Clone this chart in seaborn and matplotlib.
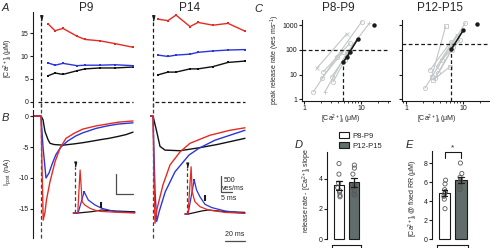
import numpy as np
import pandas as pd
import matplotlib
matplotlib.use('Agg')
import matplotlib.pyplot as plt
import seaborn as sns
from matplotlib.patches import Patch
from matplotlib.ticker import LogLocator, NullLocator, FixedLocator, NullFormatter

# ---------------- data ----------------
# Panel A: [Ca2+]i (uM) over the train (time in ms)
a_p9_t = [7, 14, 22, 36, 44, 59, 74, 92]
a_p9_red = [17.0, 15.5, 16.0, 14.3, 13.6, 13.3, 12.7, 11.9]
a_p9_blue = [8.5, 8.0, 8.4, 7.9, 8.0, 8.0, 8.1, 7.9]
a_p9_black = [5.7, 6.3, 6.0, 6.8, 7.2, 7.4, 7.4, 7.6]
a_p14_t = [5, 15, 23, 37, 45, 60, 75, 92]
a_p14_red = [18.0, 17.7, 18.9, 16.4, 17.3, 16.7, 17.1, 15.4]
a_p14_blue = [10.2, 9.9, 10.2, 10.4, 10.8, 11.1, 11.3, 11.4]
a_p14_black = [5.9, 6.5, 6.5, 7.2, 7.2, 7.7, 8.6, 8.9]

# Panel B: postsynaptic currents (nA) vs time (ms)
b_p9_black_t = [-8, 0, 2, 4, 7, 9, 13, 22, 33, 42, 53, 60, 68, 77, 85, 92]
b_p9_black_i = [0, 0, -0.6, -2.5, -3.8, -4.4, -4.6, -4.7, -4.5, -4.3, -4.0, -3.8, -3.6, -3.3, -3.0, -2.6]
b_p9_blue_t = [-8, 0, 2, 5, 8, 11, 15, 20, 27, 35, 42, 55, 66, 77, 92]
b_p9_blue_i = [0, 0, -5, -10, -9.2, -7.8, -6.2, -5.0, -4.0, -3.2, -2.7, -2.0, -1.6, -1.3, -1.1]
b_p9_red_t = [-8, 0, 1, 2.2, 4, 5.5, 9, 14, 19, 25, 33, 42, 55, 66, 77, 92]
b_p9_red_i = [0, 0, -8, -16.8, -15.5, -13.5, -10.6, -7.4, -5.2, -3.6, -2.8, -2.1, -1.6, -1.3, -1.0, -0.8]
b_p14_black_t = [-3, 0, 3.7, 7, 12, 27, 47, 64, 92]
b_p14_black_i = [0, 0, -2.5, -4.9, -5.5, -5.6, -5.1, -4.6, -3.6]
b_p14_blue_t = [-3, 0, 2, 3.7, 6, 12.3, 22, 36, 46, 62, 92]
b_p14_blue_i = [0, 0, -12, -17.0, -15.5, -12.2, -9.0, -6.3, -5.2, -3.9, -2.3]
b_p14_red_t = [-3, 0, 1, 2, 4, 10, 17, 27, 37, 57, 77, 92]
b_p14_red_i = [0, 0, -10, -17.3, -15, -11.1, -7.9, -5.8, -4.4, -3.1, -2.3, -1.9]

# Insets: release rate (ves/ms) vs time (ms)
in_p9_red_t = [-0.5, 0.8, 1.5, 2.1, 2.9, 4.4, 5.9, 7.6, 11.8, 17.6]
in_p9_red_r = [0, 0, 1075, 280, 200, 117, 70, 40, 20, 0]
in_p9_blue_t = [-0.5, 0.9, 2.7, 3.9, 5.9, 7.9, 11.8, 17.6]
in_p9_blue_r = [0, 0, 530, 325, 200, 117, 33, 10]
in_p9_black_t = [-0.5, 0.9, 4.9, 7.9, 11.8, 17.6]
in_p9_black_r = [0, 0, 33, 75, 50, 30]
in_p14_red_t = [-0.5, 0.4, 1.3, 1.6, 2.4, 3.9, 6.4, 11.3, 17.1]
in_p14_red_r = [0, 0, 1180, 560, 310, 183, 100, 40, 15]
in_p14_blue_t = [-0.5, 0.4, 2.2, 2.9, 3.9, 5.4, 7.4, 11.3, 17.1]
in_p14_blue_r = [0, 0, 850, 600, 430, 240, 160, 75, 15]
in_p14_black_t = [-0.5, 0.5, 4.4, 6.3, 11.3, 17.1]
in_p14_black_r = [0, 0, 75, 100, 60, 40]

# Panel C: peak release rate vs [Ca2+]i (log-log); gray = single cells
c1_cells_x = [[1.46, 3.75, 10.3], [2.33, 5.6, 14.0], [1.67, 5.6], [2.03, 4.9], [2.18, 6.4], [3.06, 6.0], [3.27, 5.2]]
c1_cells_y = [[2.0, 53, 1390], [2.0, 73, 1200], [18, 440], [7.1, 85], [13, 185], [8.2, 77], [5.2, 39]]
c1_cells_m = ['o', '+', 'x', 'o', 'o', 'o', 'o']
c1_mean_x = [4.9, 5.75, 6.4, 8.7]
c1_mean_y = [33, 53, 85, 270]
c1_single = (17.2, 1000)
c1_fixed_rr, c1_ca_at_rr = 100, 4.9
c2_cells_x = [[2.15, 11.0], [2.64, 6.15], [2.82, 4.97], [3.2, 6.3], [3.45, 7.75], [3.7, 6.8], [4.2, 8.9], [3.0, 5.9]]
c2_cells_y = [[2.8, 1250], [15.3, 215], [8.2, 900], [7.1, 99], [21, 400], [11.3, 134], [39, 250], [6, 21]]
c2_cells_m = ['o', 'o', 's', 'o', 'x', 'o', 'o', 's']
c2_mean_x = [6.2, 10.2]
c2_mean_y = [105, 640]
c2_single = (17.8, 1100)
c2_fixed_rr, c2_ca_at_rr = 165, 6.2

# Panels D/E
groups = ['P8-P9', 'P12-P15']
d_p89 = [5.0, 4.3, 3.7, 3.4, 3.2, 3.1, 2.9, 2.8]
d_p1215 = [4.9, 4.7, 4.3, 3.6, 3.4, 3.2, 3.0, 2.9]
e_p89 = [6.2, 5.8, 5.2, 5.0, 4.8, 4.5, 4.2, 3.2]
e_p1215 = [8.0, 6.9, 6.5, 6.2, 5.9, 5.6, 5.3, 5.2]

# ---------------- style ----------------
sns.set_theme(style='ticks')
plt.rcParams['font.family'] = ['Liberation Sans', 'DejaVu Sans']
plt.rcParams.update({
    'axes.linewidth': 0.8, 'xtick.major.width': 0.8, 'ytick.major.width': 0.8,
    'xtick.minor.width': 0.6, 'xtick.major.size': 2.2, 'ytick.major.size': 2.2,
    'xtick.minor.size': 1.4, 'xtick.labelsize': 5, 'ytick.labelsize': 5,
    'xtick.major.pad': 0.8, 'ytick.major.pad': 1.0, 'axes.unicode_minus': False,
    'mathtext.fontset': 'custom', 'mathtext.rm': 'Liberation Sans',
    'mathtext.it': 'Liberation Sans:italic', 'mathtext.bf': 'Liberation Sans:bold',
    'axes.edgecolor': 'k', 'xtick.color': 'k', 'ytick.color': 'k',
})
RED = '#e52a22'
BLUE = '#2a36d8'
BLACK = '#111111'
GRAY = '#c2c6c6'
BARGRAY = '#5e6f6c'
W, H = 490, 248

fig = plt.figure(figsize=(4.9, 2.48), dpi=100)


def px_axes(x0, y0, x1, y1):
    return fig.add_axes([x0 / W, 1 - y1 / H, (x1 - x0) / W, (y1 - y0) / H])


DASH = (0, (3, 2))
arrow_marker = [(-1, 2.2), (1, 2.2), (0, -2.2)]

# ---------------- Panel A ----------------
A_YLIM = (-1.09, 19.57)
for (x0, x1, xl, t, reds, blues, blacks, spine) in [
        (33, 136, (-8, 95), a_p9_t, a_p9_red, a_p9_blue, a_p9_black, True),
        (150, 248, (-3, 95), a_p14_t, a_p14_red, a_p14_blue, a_p14_black, False)]:
    ax = px_axes(x0, 12, x1, 107)
    ax.set_xlim(*xl)
    ax.set_ylim(*A_YLIM)
    ax.plot([xl[0] + 5, 92], [0, 0], ls=DASH, color='k', lw=0.9)
    ax.plot([0, 0], [A_YLIM[0], 17.5], ls=DASH, color='k', lw=0.9, clip_on=False)
    ax.plot([0], [18.3], marker=arrow_marker, ms=4, color='k', clip_on=False)
    for vals, col in [(blacks, BLACK), (blues, BLUE), (reds, RED)]:
        sns.lineplot(x=t, y=vals, ax=ax, color=col, lw=1.0, marker='s', ms=1.6,
                     mew=0, sort=False, estimator=None)
    sns.despine(ax=ax, bottom=True, left=not spine)
    ax.set_xticks([])
    if spine:
        ax.set_yticks([0, 5, 10, 15])
    else:
        ax.set_yticks([])
    ax.set_xlabel('')
    ax.set_ylabel('')
    ax.patch.set_alpha(0)

# ---------------- Panel B ----------------
B_YLIM = (-19.68, 0.97)
for (x0, x1, xl, traces, spine) in [
        (33, 136, (-8, 95), [(b_p9_black_t, b_p9_black_i, BLACK), (b_p9_blue_t, b_p9_blue_i, BLUE),
                             (b_p9_red_t, b_p9_red_i, RED)], True),
        (150, 248, (-3, 95), [(b_p14_black_t, b_p14_black_i, BLACK), (b_p14_blue_t, b_p14_blue_i, BLUE),
                              (b_p14_red_t, b_p14_red_i, RED)], False)]:
    ax = px_axes(x0, 110, x1, 238)
    ax.set_xlim(*xl)
    ax.set_ylim(*B_YLIM)
    ax.plot([0, 0], [B_YLIM[0], B_YLIM[1] + 1.5], ls=DASH, color='0.25', lw=0.9, clip_on=False, zorder=1)
    for t, i, col in traces:
        sns.lineplot(x=t, y=i, ax=ax, color=col, lw=1.0, sort=False, estimator=None)
    sns.despine(ax=ax, bottom=True, left=not spine)
    ax.set_xticks([])
    if spine:
        ax.set_yticks([0, -5, -10, -15])
    else:
        ax.set_yticks([])
    ax.set_xlabel('')
    ax.set_ylabel('')
    ax.patch.set_alpha(0)

# ---------------- Insets ----------------
for (x0, x1, x_dash, base, data, blue_pk, black_mk) in [
        (72, 140, 75, 213, [(in_p9_black_t, in_p9_black_r, BLACK), (in_p9_blue_t, in_p9_blue_r, BLUE),
                            (in_p9_red_t, in_p9_red_r, RED)], (2.7, 530), (7.6, 200)),
        (183, 247, 186.7, 214, [(in_p14_black_t, in_p14_black_r, BLACK), (in_p14_blue_t, in_p14_blue_r, BLUE),
                                (in_p14_red_t, in_p14_red_r, RED)], (2.2, 850), (5.4, 390))]:
    ax = px_axes(x0, 160, x1, 216)
    sx = 3.4
    ax.set_xlim((x0 - x_dash) / sx, (x1 - x_dash) / sx)
    ax.set_ylim(-(216 - base) * 25, (base - 160) * 25)
    ax.plot([0, 0], [0, 1150], ls=DASH, color='0.25', lw=0.9)
    ax.plot([0], [1230], marker=arrow_marker, ms=3.5, color='k')
    for t, r, col in data:
        sns.lineplot(x=t, y=r, ax=ax, color=col, lw=0.9, sort=False, estimator=None)
    ax.plot([blue_pk[0]], [blue_pk[1]], marker='s', ms=2, color=BLUE, mew=0)
    ax.plot([black_mk[0]], [black_mk[1]], marker='|', ms=4, mew=1.5, color='k')
    ax.axis('off')

# ---------------- Panel C ----------------
for (x0, x1, xl, cx, cy, cm, mx, my, single, rr, ca, ylabels) in [
        (302, 390, (0.92, 32.3), c1_cells_x, c1_cells_y, c1_cells_m, c1_mean_x, c1_mean_y, c1_single,
         c1_fixed_rr, c1_ca_at_rr, True),
        (402, 490, (0.85, 29.8), c2_cells_x, c2_cells_y, c2_cells_m, c2_mean_x, c2_mean_y, c2_single,
         c2_fixed_rr, c2_ca_at_rr, False)]:
    ax = px_axes(x0, 20, x1, 101)
    ax.set_xscale('log')
    ax.set_yscale('log')
    ax.set_xlim(*xl)
    ylim = (0.85, 1620)
    ax.set_ylim(*ylim)
    for xs, ys, m in zip(cx, cy, cm):
        sns.lineplot(x=xs, y=ys, ax=ax, color=GRAY, lw=0.8, marker=m, ms=3, mfc='none',
                     mec=GRAY, mew=0.6, sort=False, estimator=None)
    ax.plot(list(xl), [rr, rr], ls=DASH, color='k', lw=0.9)
    ax.plot([ca, ca], [ylim[0], my[0] if ylabels else rr * 0.64], ls=DASH, color='k', lw=0.9)
    sns.lineplot(x=mx, y=my, ax=ax, color='k', lw=1.2, marker='o', ms=3.2, mew=0,
                 sort=False, estimator=None)
    ax.plot([single[0]], [single[1]], marker='o', ms=3.2, color='k', mew=0)
    sns.despine(ax=ax)
    ax.yaxis.set_major_locator(FixedLocator([1, 10, 100, 1000]))
    ax.yaxis.set_minor_locator(NullLocator())
    ax.xaxis.set_major_locator(FixedLocator([1, 10]))
    ax.xaxis.set_minor_locator(LogLocator(base=10, subs=np.arange(2, 10)))
    ax.xaxis.set_minor_formatter(NullFormatter())
    ax.set_xticklabels(['1', '10'])
    if ylabels:
        ax.set_yticklabels(['1', '10', '100', '1000'])
    else:
        ax.set_yticklabels([])
    ax.set_xlabel('')
    ax.set_ylabel('')
    ax.patch.set_alpha(0)

# ---------------- Panels D / E ----------------
def bar_panel(x0, x1, y_top, ylim, vals, yticks, xlim):
    ax = px_axes(x0, y_top, x1, 241)
    df = pd.DataFrame({'group': [groups[0]] * len(vals[0]) + [groups[1]] * len(vals[1]),
                       'val': list(vals[0]) + list(vals[1])})
    sns.barplot(data=df, x='group', y='val', hue='group', order=groups, hue_order=groups,
                palette=['white', BARGRAY], edgecolor='k', linewidth=0.8, width=0.72,
                errorbar='se', capsize=0.35, err_kws={'linewidth': 0.9, 'color': 'k'},
                legend=False, ax=ax, zorder=1)
    n0 = len(ax.collections)
    sns.stripplot(data=df, x='group', y='val', order=groups, color='0.5', size=3,
                  jitter=0.09, ax=ax, zorder=3)
    for c in ax.collections[n0:]:
        c.set_facecolor('none')
        c.set_edgecolor('0.35')
        c.set_linewidth(0.6)
    for ln in ax.lines:
        ln.set_zorder(4)
    ax.set_xlim(*xlim)
    ax.set_ylim(*ylim)
    ax.set_yticks(yticks)
    ax.set_xticks([-0.45, 1.45])
    ax.set_xticklabels([])
    sns.despine(ax=ax)
    ax.spines['bottom'].set_position(('outward', 3))
    ax.spines['bottom'].set_bounds(-0.45, 1.45)
    ax.spines['left'].set_bounds(0, ylim[1] - 0.1)
    ax.set_xlabel('')
    ax.set_ylabel('')
    ax.patch.set_alpha(0)
    return ax


axD = bar_panel(327, 366, 150, (-0.13, 5.9), (d_p89, d_p1215), [0, 2, 4], (-0.8, 1.8))
axE = bar_panel(432, 472, 150, (-0.2, 9.37), (e_p89, e_p1215), [0, 2, 4, 6, 8], (-0.78, 1.7))
axE.plot([0, 0, 1, 1], [8.5, 9.2, 9.2, 8.5], color='k', lw=0.8, clip_on=False)
axE.text(0.5, 9.25, '*', ha='center', va='bottom', fontsize=6)

handles = [Patch(facecolor='white', edgecolor='k', lw=0.8), Patch(facecolor=BARGRAY, edgecolor='k', lw=0.8)]
fig.legend(handles, groups, loc='upper left', bbox_to_anchor=(339 / W, 1 - 132 / H), frameon=False,
           fontsize=5.5, handlelength=1.3, handleheight=0.8, labelspacing=0.35, handletextpad=0.4,
           borderpad=0, borderaxespad=0)

# ---------------- overlay text and scale bars ----------------
ov = fig.add_axes([0, 0, 1, 1])
ov.set_xlim(0, W)
ov.set_ylim(H, 0)
ov.axis('off')
lab = dict(fontsize=8, style='italic', ha='left', va='center')
ov.text(2, 8, 'A', **lab)
ov.text(2, 118, 'B', **lab)
ov.text(254, 9, 'C', **lab)
ov.text(295, 145, 'D', **lab)
ov.text(406, 145, 'E', **lab)
tt = dict(fontsize=8.5, ha='center', va='center')
ov.text(86, 8, 'P9', **tt)
ov.text(190, 8, 'P14', **tt)
ov.text(338, 8, 'P8-P9', **tt)
ov.text(440, 8, 'P12-P15', **tt)
yl = dict(fontsize=5, rotation=90, ha='center', va='center')
ov.text(8, 58, r'[Ca$^{2+}$]$_{\rm i}$ (μM)', **yl)
ov.text(8, 172, r'I$_{\rm post}$ (nA)', **yl)
ov.text(275, 60, r'peak release rate (ves ms$^{-1}$)', **yl)
ov.text(307, 190, r'release rate - [Ca$^{2+}$]$_{\rm i}$ slope', **yl)
ov.text(413, 198, r'[Ca$^{2+}$]$_{\rm i}$ @ fixed RR (μM)', **yl)
xl = dict(fontsize=5, ha='center', va='center')
ov.text(341, 119.5, r'[Ca$^{2+}$]$_{\rm i}$ (μM)', **xl)
ov.text(437, 119.5, r'[Ca$^{2+}$]$_{\rm i}$ (μM)', **xl)
# scale bars
ov.plot([116, 116, 133], [174, 194, 194], color='0.3', lw=0.9)
ov.plot([221, 221, 232], [176, 192, 192], color='0.3', lw=0.9)
sb = dict(fontsize=5, ha='left', va='center')
ov.text(224, 180, '500', **sb)
ov.text(222, 188, 'ves/ms', **sb)
ov.text(221, 199, '5 ms', **sb)
ov.text(235, 235, '20 ms', fontsize=5, ha='center', va='center')
ov.plot([225, 245], [241, 241], color='0.3', lw=0.9)

fig.savefig('out.png', dpi=100)
